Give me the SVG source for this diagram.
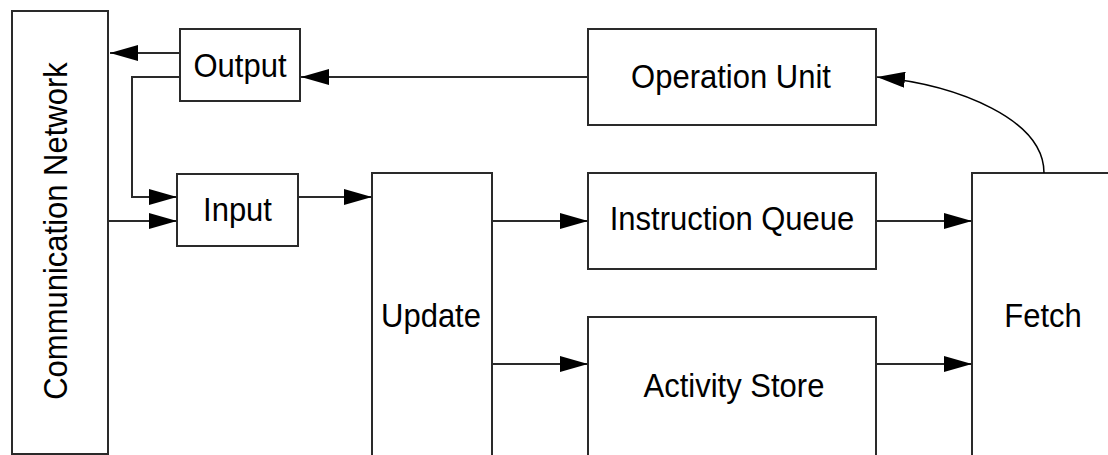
<svg xmlns="http://www.w3.org/2000/svg" width="1108" height="455" viewBox="0 0 1108 455">
<style>
.box{fill:#fff;stroke:#2a2a2a;stroke-width:2}
.lbl{font-family:"Liberation Sans",Arial,sans-serif;font-size:31px;fill:#000;text-anchor:middle}
.con{fill:none;stroke:#2a2a2a;stroke-width:2}
.curve{fill:none;stroke:#000;stroke-width:1.5}
</style>
<defs>
<marker id="ah" viewBox="0 0 28 16" refX="28" refY="8" markerWidth="28" markerHeight="16" markerUnits="userSpaceOnUse" orient="auto">
<path d="M0,0 L28,8 L0,16 z" fill="#000"/>
</marker>
</defs>
<rect width="1108" height="455" fill="#fff"/>
<g id="comm-network"><rect class="box" x="12" y="11" width="96" height="443"/><text class="lbl" transform="translate(67,231) rotate(-90) scale(1,1.08)">Communication Network</text></g>
<g id="output"><rect class="box" x="180" y="29" width="120" height="72"/><text class="lbl" transform="translate(240,77) scale(1,1.08)">Output</text></g>
<g id="input"><rect class="box" x="177" y="174" width="121" height="72"/><text class="lbl" transform="translate(237.5,221) scale(1,1.08)">Input</text></g>
<g id="update"><rect class="box" x="372" y="173" width="120" height="300"/><text class="lbl" transform="translate(431,327) scale(1,1.08)">Update</text></g>
<g id="operation-unit"><rect class="box" x="588" y="29" width="288" height="96"/><text class="lbl" transform="translate(731,88) scale(1,1.08)">Operation Unit</text></g>
<g id="instruction-queue"><rect class="box" x="588" y="173" width="288" height="96"/><text class="lbl" transform="translate(732,230) scale(1,1.08)">Instruction Queue</text></g>
<g id="activity-store"><rect class="box" x="588" y="317" width="288" height="160"/><text class="lbl" transform="translate(734,397) scale(1,1.08)">Activity Store</text></g>
<g id="fetch"><rect class="box" x="972" y="173" width="200" height="300"/><text class="lbl" transform="translate(1043,327) scale(1,1.08)">Fetch</text></g>
<g id="connectors">
<path class="con" d="M180,53 H110" marker-end="url(#ah)"/>
<path class="con" d="M180,77 H132 V197 H177" marker-end="url(#ah)"/>
<path class="con" d="M108,221 H177" marker-end="url(#ah)"/>
<path class="con" d="M298,197 H372" marker-end="url(#ah)"/>
<path class="con" d="M492,221 H588" marker-end="url(#ah)"/>
<path class="con" d="M492,364 H588" marker-end="url(#ah)"/>
<path class="con" d="M876,221 H972" marker-end="url(#ah)"/>
<path class="con" d="M876,364 H972" marker-end="url(#ah)"/>
<path class="con" d="M588,77 H301" marker-end="url(#ah)"/>
<path class="curve" d="M1044,173 C1044,120 960,85 877,77" marker-end="url(#ah)"/>
</g>
</svg>
